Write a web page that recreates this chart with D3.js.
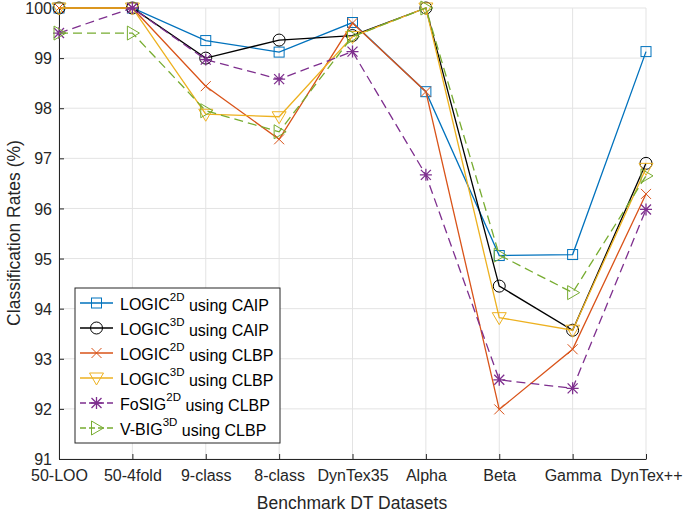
<!DOCTYPE html>
<html><head><meta charset="utf-8">
<script src="https://cdn.jsdelivr.net/npm/d3@7"></script>
<style>body{margin:0;background:#fff;} text{font-family:"Liberation Sans",Arial,sans-serif;}</style>
</head><body><svg id="c" width="685" height="514"></svg>
<script>
const categories = ["50-LOO","50-4fold","9-class","8-class","DynTex35","Alpha","Beta","Gamma","DynTex++"];
const yTicks = [91,92,93,94,95,96,97,98,99,100];
const logic2dCaip = [100,100,99.35,99.12,99.71,98.33,95.06,95.08,99.13];
const logic3dCaip = [100,100,99.0,99.36,99.45,100,94.45,93.57,96.9];
const logic2dClbp = [100,100,98.44,97.38,99.70,98.33,91.99,93.19,96.29];
const logic3dClbp = [100,100,97.88,97.83,99.43,100,93.82,93.57,96.8];
const fosig2dClbp = [99.5,100,98.97,98.58,99.13,96.67,92.58,92.41,95.98];
const vbig3dClbp = [99.5,99.5,97.95,97.53,99.43,100,95.07,94.32,96.65];

const series = [
  {base:"LOGIC",sup:"2D",rest:" using CAIP",values:logic2dCaip,color:"#0072BD",marker:"square",dash:null},
  {base:"LOGIC",sup:"3D",rest:" using CAIP",values:logic3dCaip,color:"#000000",marker:"circle",dash:null},
  {base:"LOGIC",sup:"2D",rest:" using CLBP",values:logic2dClbp,color:"#D95319",marker:"x",dash:null},
  {base:"LOGIC",sup:"3D",rest:" using CLBP",values:logic3dClbp,color:"#EDB120",marker:"tridown",dash:null},
  {base:"FoSIG",sup:"2D",rest:" using CLBP",values:fosig2dClbp,color:"#7E2F8E",marker:"star",dash:"9,5"},
  {base:"V-BIG",sup:"3D",rest:" using CLBP",values:vbig3dClbp,color:"#77AC30",marker:"triright",dash:"9,5"}
];

const svg = d3.select("#c");
const L=59,R=646,T=8,B=459;
const x = d3.scalePoint().domain(categories).range([L,R]);
const y = d3.scaleLinear().domain([91,100]).range([B,T]);

// grid
const g = svg.append("g");
g.selectAll(".gx").data(categories).enter().append("line")
 .attr("x1",d=>x(d)).attr("x2",d=>x(d)).attr("y1",T).attr("y2",B)
 .attr("stroke","#e3e3e3").attr("stroke-width",1);
g.selectAll(".gy").data(yTicks).enter().append("line")
 .attr("x1",L).attr("x2",R).attr("y1",d=>y(d)).attr("y2",d=>y(d))
 .attr("stroke","#e3e3e3").attr("stroke-width",1);

// axes
const xAxis = d3.axisBottom(x).tickSizeInner(-5).tickSizeOuter(0).tickPadding(12);
const yAxis = d3.axisLeft(y).tickValues(yTicks).tickSizeInner(-5).tickSizeOuter(0).tickPadding(7);
const gx = svg.append("g").attr("transform",`translate(0,${B})`).call(xAxis);
const gy = svg.append("g").attr("transform",`translate(${L},0)`).call(yAxis);
[gx,gy].forEach(a=>{
  a.select(".domain").attr("stroke","#262626").attr("stroke-width",1);
  a.selectAll(".tick line").attr("stroke","#262626");
  a.selectAll("text").attr("font-size",16).attr("fill","#262626").attr("font-family","Liberation Sans, Arial, sans-serif");
});
gx.selectAll("text").attr("dy","0.62em");
gy.selectAll("text").attr("dy","0.35em");

// labels
svg.append("text").attr("x",352).attr("y",503).attr("text-anchor","middle").attr("dy","0.35em")
 .attr("font-size",17.5).attr("fill","#262626").text("Benchmark DT Datasets");
svg.append("text").attr("transform",`translate(14,233) rotate(-90)`).attr("text-anchor","middle")
 .attr("dy","0.35em").attr("font-size",17.5).attr("fill","#262626").text("Classification Rates (%)");

function drawMarker(sel, type, color){
  const s=5;
  if(type==="square") sel.append("rect").attr("x",-s).attr("y",-s).attr("width",2*s).attr("height",2*s).attr("fill","none").attr("stroke",color);
  else if(type==="circle") sel.append("circle").attr("r",6).attr("fill","none").attr("stroke",color);
  else if(type==="x") sel.append("path").attr("d",`M${-s},${-s}L${s},${s}M${-s},${s}L${s},${-s}`).attr("stroke",color);
  else if(type==="tridown") sel.append("path").attr("d",`M-7,-5L7,-5L0,7Z`).attr("fill","none").attr("stroke",color);
  else if(type==="triright") sel.append("path").attr("d",`M-5,-7L7,0L-5,7Z`).attr("fill","none").attr("stroke",color);
  else if(type==="star") sel.append("path").attr("d",`M${-s},${-s}L${s},${s}M${-s},${s}L${s},${-s}M0,${-6}L0,6M-6,0L6,0`).attr("stroke",color).attr("stroke-width",1.3);
}

const line = d3.line().x((d,i)=>x(categories[i])).y(d=>y(d));
series.forEach(s=>{
  svg.append("path").datum(s.values).attr("d",line).attr("fill","none")
   .attr("stroke",s.color).attr("stroke-width",1.3).attr("stroke-dasharray",s.dash);
  s.values.forEach((v,i)=>{
    const m=svg.append("g").attr("transform",`translate(${x(categories[i])},${y(v)})`);
    drawMarker(m,s.marker,s.color);
  });
});

// legend
const lg = svg.append("g");
lg.append("rect").attr("x",75).attr("y",288).attr("width",205).attr("height",155)
 .attr("fill","#fff").attr("stroke","#262626").attr("stroke-width",1);
series.forEach((s,i)=>{
  const yy=303+i*25;
  lg.append("line").attr("x1",80).attr("x2",113).attr("y1",yy).attr("y2",yy)
   .attr("stroke",s.color).attr("stroke-width",1.3).attr("stroke-dasharray",s.dash?"6,3":null);
  const m=lg.append("g").attr("transform",`translate(96.5,${yy})`);
  drawMarker(m,s.marker,s.color);
  const t=lg.append("text").attr("x",120).attr("y",yy).attr("dy","0.45em").attr("font-size",16).attr("fill","#000");
  t.append("tspan").text(s.base);
  t.append("tspan").attr("font-size",11.5).attr("dy","-0.8em").text(s.sup);
  t.append("tspan").attr("dy","0.6em").text(s.rest);
});
</script></body></html>
